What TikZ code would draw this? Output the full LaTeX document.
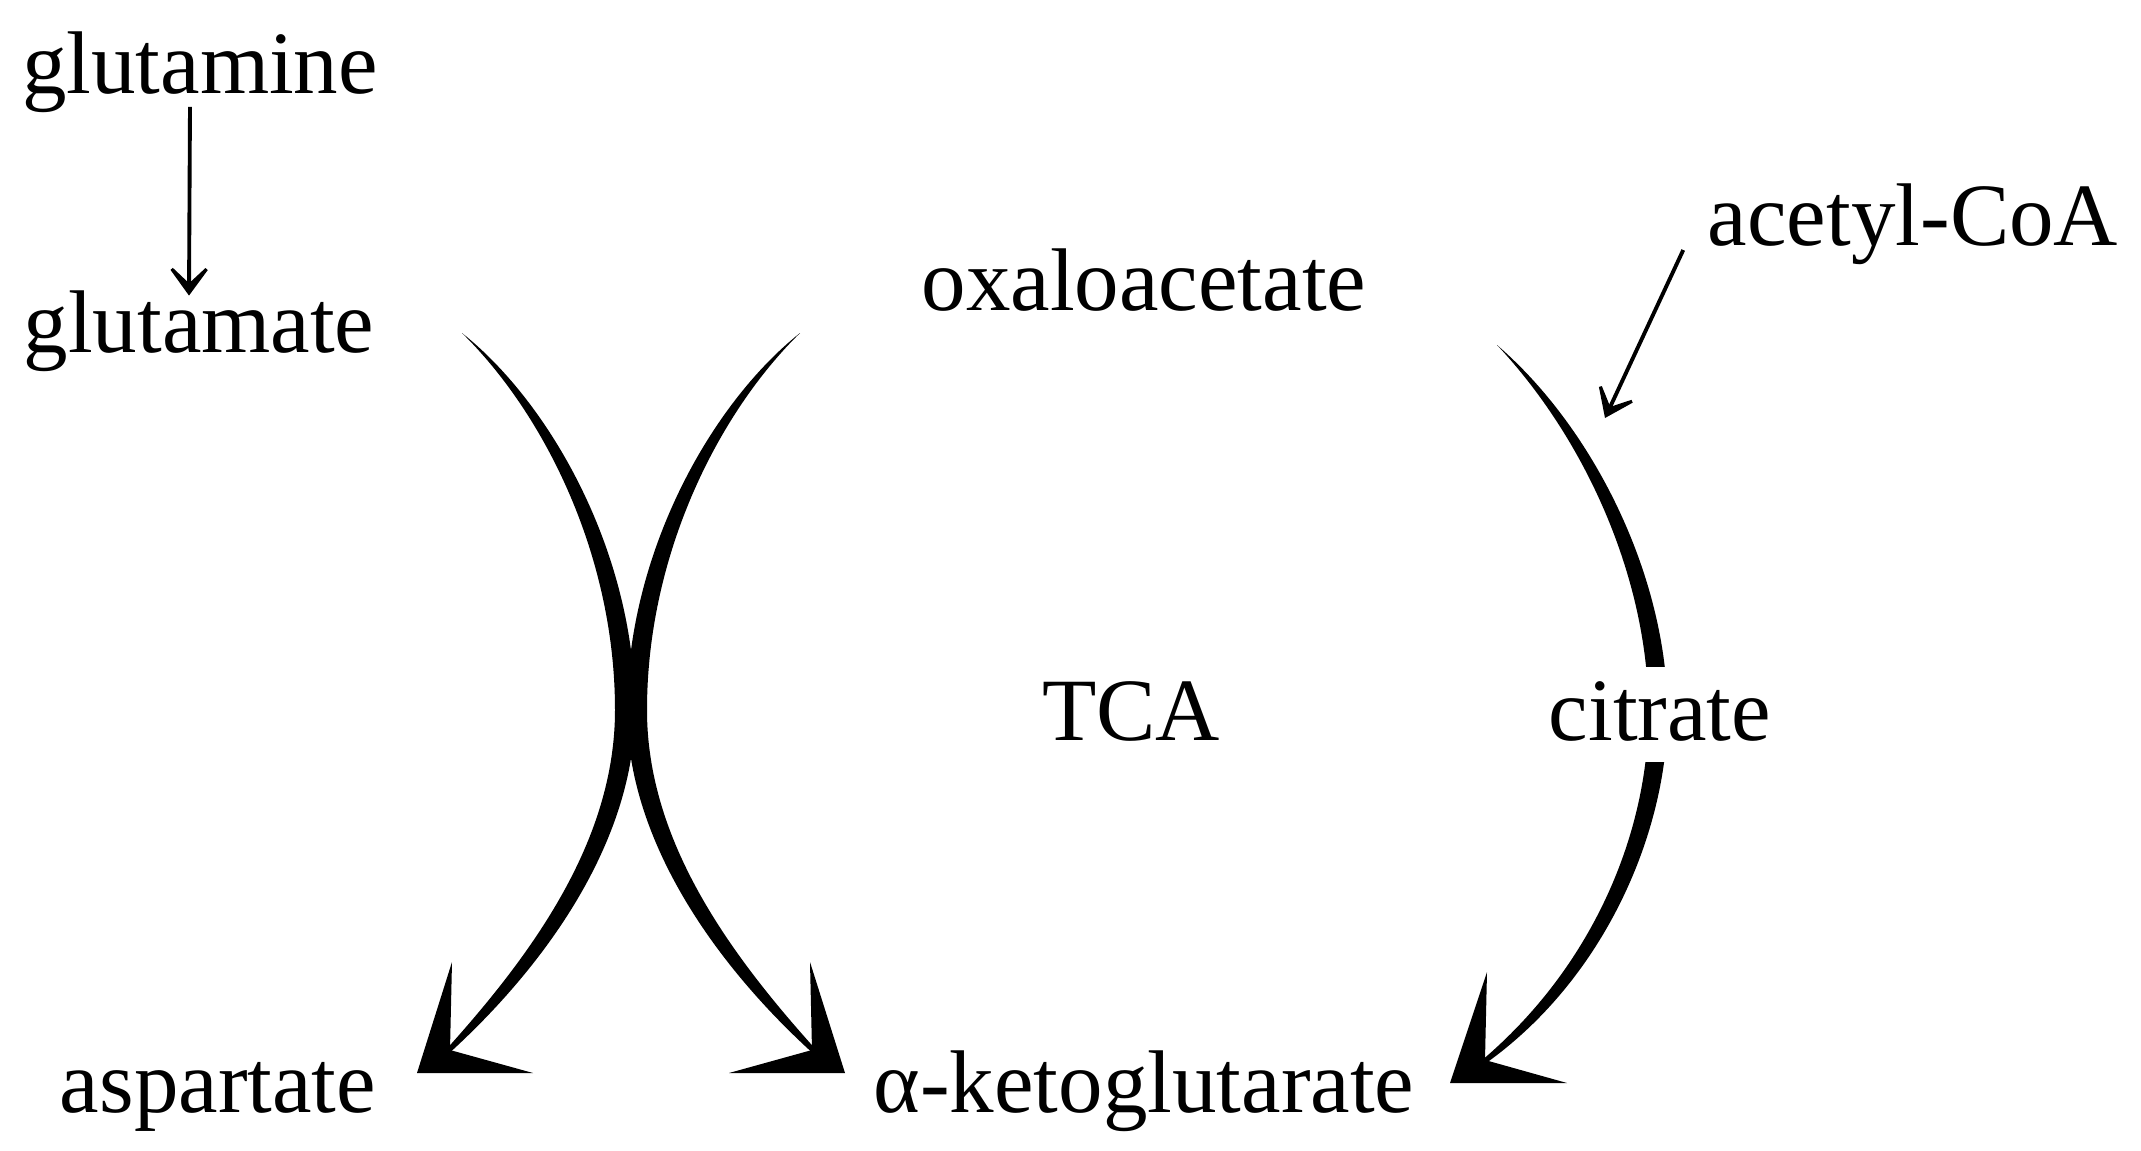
\documentclass[tikz,border=0pt]{standalone}
\usepackage{fontspec}
\setmainfont{Liberation Serif}
\usetikzlibrary{arrows.meta, backgrounds}

\begin{document}
\begin{tikzpicture}[
    x=0.01cm, y=-0.01cm,
    metab/.style={inner sep=0pt, anchor=base, font=\fontsize{25.3pt}{30pt}\selectfont},
    thinarr/.style={-{Stealth[length=11pt, width=16pt, inset=7.5pt]}, line width=1.1pt},
    cross arc/.pic={
        % tapered shaft
        \fill (462,333) .. controls (552,404.5) and (635,555) .. (635,710)
            .. controls (635,840) and (546.4,966.4) .. (443.4,1058.4)
            -- (440.6,1055.6) .. controls (533.6,953.6) and (615,840) .. (615,710)
            .. controls (615,555) and (544,413.5) .. (462,333) -- cycle;
        % barbed head
        \fill (417,1073) -- (452,962) -- (450,1050) -- (533,1073) -- cycle;
    }
]
\useasboundingbox (0,0) rectangle (2141,1151);

% Metabolites
\node[metab] (gln) at (200,93) {glutamine};
\node[metab] (glt) at (199,352) {glutamate};
\node[metab] (oaa) at (1144,310) {oxaloacetate};
\node[metab] (acoa) at (1913,245) {acetyl-CoA};
\node[metab] (tca) at (1131,740) {TCA};
\node[metab, fill=white, text height=0.73cm, text depth=0.22cm] (cit) at (1660,740) {citrate};
\node[metab] (asp) at (218,1112) {aspartate};
\node[metab] (akg) at (1144,1112) {α-ketoglutarate};

\coordinate (acoa-end) at (1605,418);

% Thin arrows
\draw[thinarr] ([shift={(-0.1cm,0.06cm)}]gln.south) -- ([shift={(-0.1cm,-0.06cm)}]glt.north);
\draw[thinarr] ([shift={(-0.24cm,-0.05cm)}]acoa.base west) -- (acoa-end);

% Crossing arcs
\pic {cross arc};
\pic[xscale=-1] at (1262,0) {cross arc};

% Citrate arc
\begin{scope}[on background layer]
\fill (1497,345) .. controls (1595.8,430) and (1667.5,580) .. (1667.5,713)
    .. controls (1667.5,830) and (1605.4,982.2) .. (1478.2,1068.6)
    -- (1475.8,1065.4) .. controls (1594.6,967.8) and (1648.5,830) .. (1648.5,713)
    .. controls (1648.5,580) and (1586.2,440) .. (1497,345) -- cycle;
\fill (1450,1083) -- (1487,972) -- (1485,1060) -- (1567,1083) -- cycle;
\end{scope}

\end{tikzpicture}
\end{document}
